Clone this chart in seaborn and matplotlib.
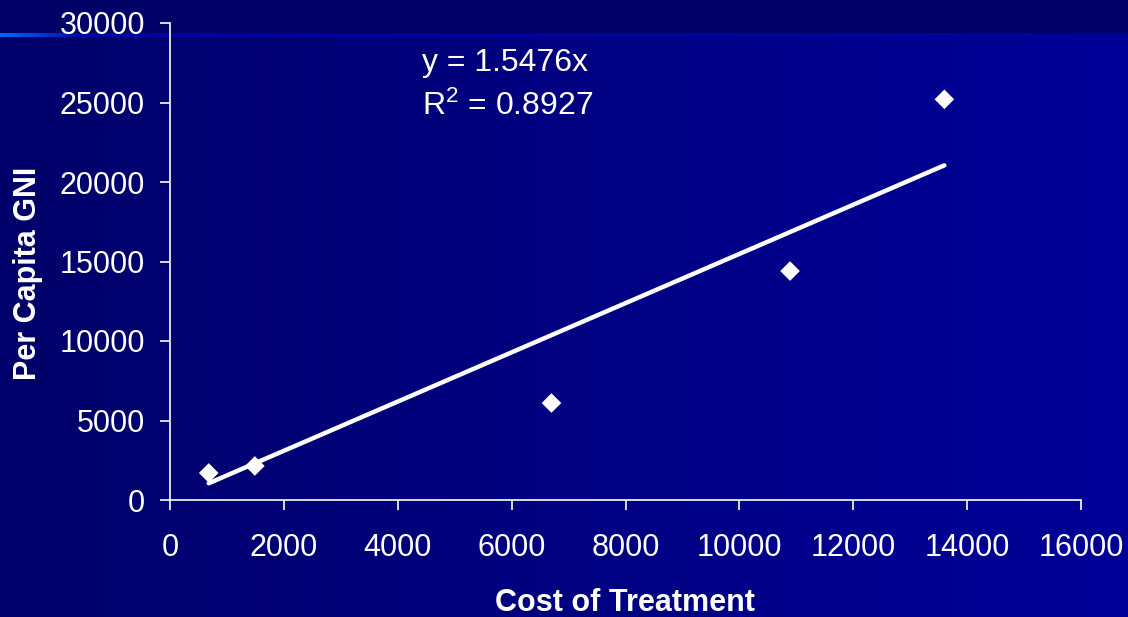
import numpy as np
import pandas as pd
import matplotlib
matplotlib.use("Agg")
import matplotlib.pyplot as plt
import seaborn as sns
from matplotlib.colors import LinearSegmentedColormap

# ---- data ----
cost_of_treatment = [680, 1490, 6700, 10890, 13600]
per_capita_gni = [1700, 2140, 6100, 14400, 25200]
slope = 1.5476
r_squared = 0.8927
x_ticks = [0, 2000, 4000, 6000, 8000, 10000, 12000, 14000, 16000]
y_ticks = [0, 5000, 10000, 15000, 20000, 25000, 30000]

df = pd.DataFrame({"cost": cost_of_treatment, "gni": per_capita_gni})

sns.set_theme(style="white")
plt.rcParams["font.family"] = ["Liberation Sans", "DejaVu Sans"]
plt.rcParams["mathtext.fontset"] = "custom"
plt.rcParams["mathtext.rm"] = "Liberation Sans"
plt.rcParams["mathtext.it"] = "Liberation Sans"
plt.rcParams["mathtext.default"] = "regular"

W, H = 1128, 617
fig = plt.figure(figsize=(W / 100, H / 100), dpi=100)

# ---- background gradient ----
bg = fig.add_axes([0, 0, 1, 1], zorder=-10)
bg.set_axis_off()
grad = np.linspace(0, 1, 256).reshape(1, -1)
cmap = LinearSegmentedColormap.from_list("bgc", ["#00006a", "#000098"])
bg.imshow(grad, aspect="auto", cmap=cmap, extent=[0, 1, 0, 1], origin="lower")
# top dark band
bg.axhspan(1 - 33 / H, 1, color="#000066", zorder=2)
# decorative line
line_cmap = LinearSegmentedColormap.from_list("lc", ["#0066ff", "#0000a8", "#0000a0", "#000098"])
lg = np.concatenate([np.linspace(0, 0.5, 30), np.linspace(0.5, 1, 226)]).reshape(1, -1)
bg.imshow(lg, aspect="auto", cmap=line_cmap, extent=[0, 1, 1 - 37 / H, 1 - 33 / H], zorder=3)
bg.set_xlim(0, 1)
bg.set_ylim(0, 1)

# ---- main axes ----
ax = fig.add_axes([170 / W, 117 / H, (1081 - 170) / W, (594 - 117) / H])
ax.set_facecolor("none")

sns.scatterplot(data=df, x="cost", y="gni", marker="D", s=100, color="white",
                edgecolor="none", ax=ax, zorder=3, legend=False)

# trendline through origin, across data range
xs = np.array([min(cost_of_treatment), max(cost_of_treatment)])
sns.lineplot(x=xs, y=slope * xs, color="white", linewidth=3.2, ax=ax,
             solid_capstyle="round", zorder=2)

ax.set_xlim(0, 16000)
ax.set_ylim(0, 30000)
ax.set_xticks(x_ticks)
ax.set_yticks(y_ticks)
ax.set_xticklabels([str(t) for t in x_ticks])
ax.set_yticklabels([str(t) for t in y_ticks])

for s in ["top", "right"]:
    ax.spines[s].set_visible(False)
for s in ["left", "bottom"]:
    ax.spines[s].set_color("white")
    ax.spines[s].set_linewidth(1.2)

ax.tick_params(axis="both", colors="white", direction="out", length=7, width=1.2,
               labelsize=22, labelcolor="white", bottom=True, left=True)
ax.tick_params(axis="x", pad=17)
ax.tick_params(axis="y", pad=11)
ax.grid(False)

ax.set_xlabel("Cost of Treatment", fontsize=22, fontweight="bold", color="white")
ax.set_ylabel("Per Capita GNI", fontsize=22, fontweight="bold", color="white")
ax.xaxis.label.set_va("center")
ax.yaxis.label.set_va("center")
ax.xaxis.set_label_coords((625 - 170) / (1081 - 170), -(603 - 500) / (594 - 117))
ax.yaxis.set_label_coords(-(170 - 28) / (1081 - 170), (500 - 273.5) / (594 - 117))

fig.text(422 / W, 1 - 63 / H, f"y = {slope}x", color="white", fontsize=23,
         va="center", ha="left")
fig.text(422 / W, 1 - 106 / H, "R$^{2}$ = " + f"{r_squared}", color="white", fontsize=23,
         va="center", ha="left")

fig.savefig("out.png", dpi=100)
